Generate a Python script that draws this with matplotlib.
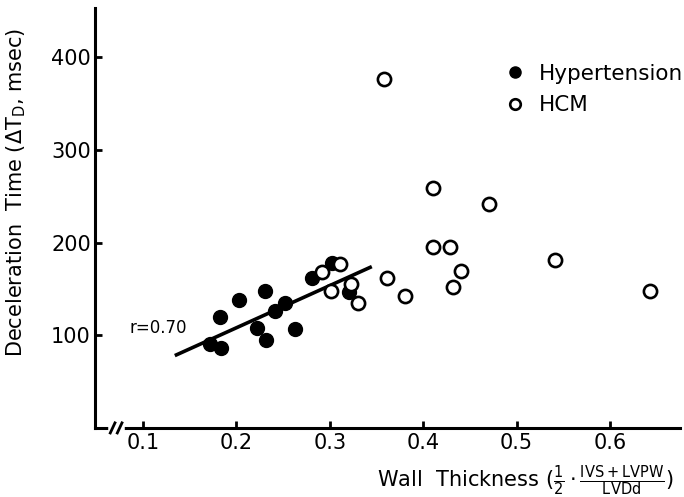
import matplotlib
matplotlib.use("Agg")
import matplotlib.pyplot as plt

# Hypertension (filled)
htn_x = [0.172, 0.183, 0.182, 0.203, 0.222, 0.231, 0.232, 0.241, 0.252, 0.263, 0.281, 0.302, 0.321]
htn_y = [90, 86, 120, 138, 108, 148, 95, 126, 135, 107, 162, 178, 147]

# HCM (open)
hcm_x = [0.292, 0.311, 0.301, 0.323, 0.330, 0.361, 0.358, 0.381, 0.411, 0.411, 0.429, 0.441, 0.432, 0.471, 0.541, 0.643]
hcm_y = [168, 177, 148, 155, 135, 162, 376, 142, 259, 195, 195, 169, 152, 241, 181, 148]

# regression line end points
fit_x = [0.134, 0.345]
fit_y = [78, 174]

xticks = [0.1, 0.2, 0.3, 0.4, 0.5, 0.6]
xtick_labels = ["0.1", "0.2", "0.3", "0.4", "0.5", "0.6"]
yticks = [100, 200, 300, 400]

plt.rcParams['font.family'] = ['DejaVu Sans']
plt.rcParams['mathtext.fontset'] = 'dejavusans'

fig = plt.figure(figsize=(6.84, 4.97), dpi=100)
ax = fig.add_axes([0.139, 0.139, 0.855, 0.845])

ax.plot(fit_x, fit_y, color='black', lw=2.6, solid_capstyle='butt', zorder=2)
ax.plot(htn_x, htn_y, 'o', ms=10, color='black', label='Hypertension', zorder=3)
ax.plot(hcm_x, hcm_y, 'o', ms=9.5, mfc='white', mec='black', mew=1.9, label='HCM', zorder=4)

ax.set_xlim(0.0486, 0.675)
ax.set_ylim(0, 453)

for s in ['top', 'right']:
    ax.spines[s].set_visible(False)
for s in ['left', 'bottom']:
    ax.spines[s].set_linewidth(2.2)

ax.set_xticks(xticks)
ax.set_xticklabels(xtick_labels)
ax.set_yticks(yticks)
ax.tick_params(direction='in', length=5, width=2, labelsize=15, pad=3)
ax.tick_params(axis='x', pad=4)

# axis break on the x axis
ax.plot([0.028, 0.046], [0.0, 0.0], transform=ax.transAxes, color='white', lw=4,
        clip_on=False, zorder=5)
for bx in [0.026, 0.038]:
    ax.plot([bx, bx + 0.008], [-0.012, 0.012], transform=ax.transAxes, color='black',
            lw=2, clip_on=False, zorder=6)

ax.text(0.086, 108, 'r=0.70', fontsize=12, va='center', ha='left')

ax.set_ylabel(r'Deceleration  Time ($\mathit{\Delta}$T$_{\rm D}$, msec)', fontsize=15)
ax.yaxis.set_label_coords(-0.115, 0.56)
ax.set_xlabel(r'Wall  Thickness ($\frac{1}{2}\cdot\frac{\rm IVS+LVPW}{\rm LVDd}$)', fontsize=15)
ax.xaxis.set_label_coords(0.736, -0.085)

ax.legend(loc='upper left', bbox_to_anchor=(0.692, 0.888), frameon=False, fontsize=15.5,
          markerscale=0.8, handlelength=0.6, handletextpad=0.8, labelspacing=0.55,
          borderaxespad=0)

fig.savefig('out.png', dpi=100)
